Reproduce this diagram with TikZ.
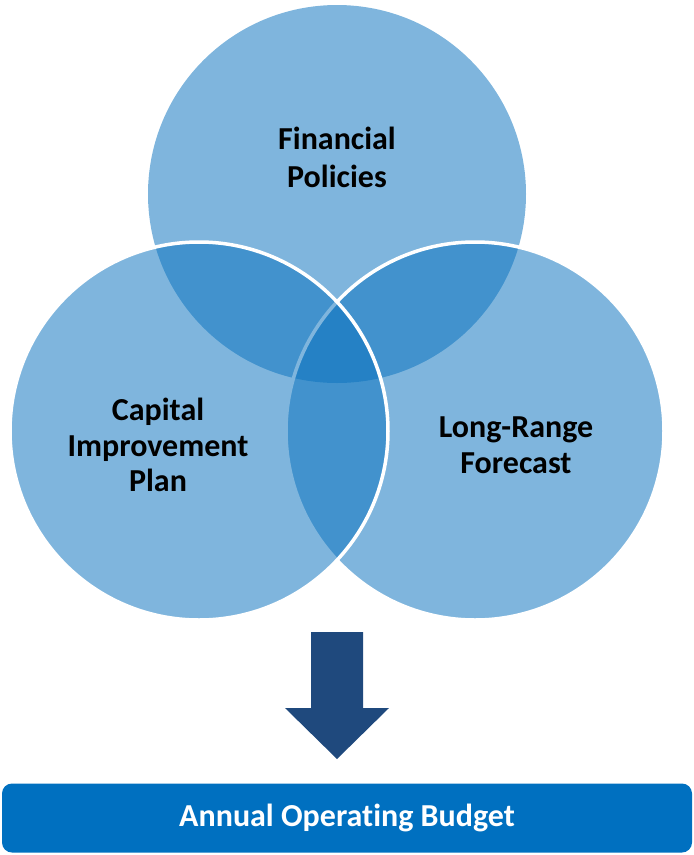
\documentclass[tikz,border=0pt]{standalone}
\usepackage{fontspec}
\setmainfont{Carlito}[Ligatures=NoCommon]
\definecolor{vennfill}{RGB}{10,114,190}
\definecolor{arrowblue}{RGB}{31,73,125}
\definecolor{barblue}{RGB}{0,112,192}
\begin{document}
\begin{tikzpicture}[x=1pt,y=-1pt,
  venn/.style={fill=vennfill,fill opacity=0.52},
  vennline/.style={draw=white,line width=3.5pt},
  lbl/.style={align=center,font=\bfseries\fontsize{32}{35.5}\selectfont,text=black,inner sep=0pt},
  barlbl/.style={font=\bfseries\fontsize{32}{36}\selectfont,text=white}]
\useasboundingbox (0,0) rectangle (694,855);
% circles
\fill[venn] (337,194) circle[radius=189];
\fill[venn] (475,431) circle[radius=189];
\draw[vennline] (475,431) circle[radius=189];
\fill[venn] (199,431) circle[radius=189];
\draw[vennline] (199,431) circle[radius=189];
% labels
\node[lbl] (fp) at (337,157) {Financial\\[2.5pt]Policies};
\node[lbl] (cip) at (158,445) {Capital\\Improvement\\Plan};
\node[lbl] (lrf) at (516,445) {Long-Range\\Forecast};
% arrow
\fill[arrowblue] (311,632) -- (363,632) -- (363,708) -- (389,708) -- (337,759) -- (285,708) -- (311,708) -- cycle;
% bar
\node[fill=barblue,rounded corners=10pt,minimum width=690pt,minimum height=69pt,inner sep=0pt] (bar) at (347,818) {};
\node[barlbl] (barlabel) at (bar.center) {Annual Operating Budget};
\end{tikzpicture}
\end{document}
